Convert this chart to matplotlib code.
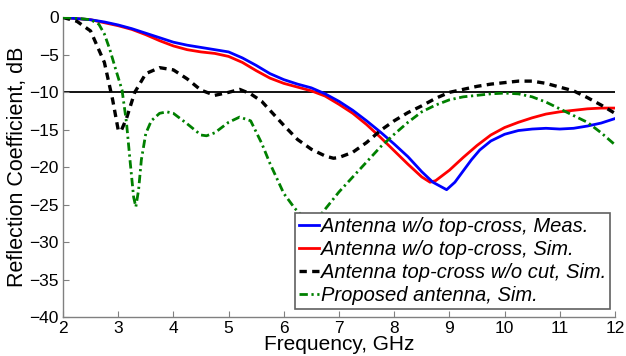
import matplotlib
matplotlib.use("Agg")
import matplotlib.pyplot as plt

plt.rcParams['font.family'] = ['Liberation Sans', 'DejaVu Sans']

# Antenna w/o top-cross, measured
f_meas = [2.0, 2.5, 2.75, 3.0, 3.25, 3.5, 3.75, 4.0, 4.25, 4.5, 4.75, 5.0, 5.25, 5.5,
          5.75, 6.0, 6.25, 6.5, 6.75, 7.0, 7.25, 7.5, 7.75, 8.0, 8.25, 8.5, 8.7, 8.85,
          8.95, 9.1, 9.25, 9.4, 9.55, 9.75, 10.0, 10.25, 10.5, 10.75, 11.0, 11.25, 11.5,
          11.75, 12.0]
s11_meas = [0, -0.3, -0.6, -1.0, -1.5, -2.1, -2.7, -3.3, -3.7, -4.0, -4.3, -4.6, -5.4, -6.4,
            -7.5, -8.3, -8.9, -9.4, -10.2, -11.2, -12.4, -13.8, -15.3, -16.9, -18.6, -20.6,
            -22.0, -22.6, -23.0, -22.0, -20.5, -19.0, -17.7, -16.5, -15.6, -15.1, -14.9,
            -14.8, -14.9, -14.8, -14.5, -14.1, -13.5]

# Antenna w/o top-cross, simulated
f_sim = [2.0, 2.5, 2.75, 3.0, 3.25, 3.5, 3.75, 4.0, 4.25, 4.5, 4.75, 5.0, 5.25, 5.5,
         5.75, 6.0, 6.25, 6.5, 6.75, 7.0, 7.25, 7.5, 7.75, 8.0, 8.25, 8.5, 8.65, 8.75,
         9.0, 9.25, 9.5, 9.75, 10.0, 10.25, 10.5, 10.75, 11.0, 11.25, 11.5, 11.75, 12.0]
s11_sim = [0, -0.3, -0.7, -1.1, -1.6, -2.3, -3.1, -3.8, -4.3, -4.6, -4.8, -5.2, -6.0, -7.1,
           -8.1, -8.8, -9.3, -9.8, -10.5, -11.6, -12.8, -14.3, -16.0, -17.8, -19.6, -21.3,
           -22.0, -21.8, -20.4, -18.7, -17.1, -15.7, -14.7, -14.0, -13.4, -12.9, -12.6,
           -12.4, -12.2, -12.1, -12.1]

# Antenna top-cross w/o cut, simulated
f_cross = [2.0, 2.25, 2.5, 2.75, 2.9, 3.0, 3.05, 3.15, 3.3, 3.5, 3.75, 4.0, 4.25, 4.5,
           4.75, 5.0, 5.2, 5.4, 5.6, 5.8, 6.0, 6.25, 6.5, 6.75, 6.9, 7.0, 7.25, 7.5, 7.75,
           8.0, 8.25, 8.5, 8.75, 9.0, 9.25, 9.5, 9.75, 10.0, 10.25, 10.5, 10.75, 11.0,
           11.25, 11.5, 11.75, 12.0]
s11_cross = [0, -0.5, -1.8, -6.0, -11.0, -15.0, -15.2, -13.5, -10.0, -7.5, -6.7, -7.0,
             -8.2, -9.7, -10.4, -10.0, -9.6, -10.2, -11.2, -12.8, -14.4, -16.3, -17.6,
             -18.5, -18.8, -18.7, -18.0, -16.7, -15.1, -13.8, -12.7, -11.8, -10.8, -10.0,
             -9.6, -9.2, -8.9, -8.7, -8.5, -8.5, -8.8, -9.3, -9.8, -10.7, -11.7, -12.8]

# Proposed antenna, simulated
f_prop = [2.0, 2.25, 2.5, 2.65, 2.75, 2.85, 2.95, 3.07, 3.15, 3.22, 3.28, 3.32, 3.37,
          3.42, 3.5, 3.6, 3.75, 3.88, 4.0, 4.25, 4.5, 4.6, 4.75, 5.0, 5.2, 5.4, 5.6, 5.75,
          6.0, 6.2, 6.4, 6.5, 6.6, 6.75, 7.0, 7.25, 7.5, 7.75, 8.0, 8.25, 8.5, 8.75, 9.0,
          9.25, 9.5, 9.75, 10.0, 10.25, 10.5, 10.75, 11.0, 11.25, 11.5, 11.75, 12.0]
s11_prop = [0, -0.1, -0.3, -0.9, -2.2, -4.3, -6.8, -9.7, -14.0, -19.5, -24.0, -25.3,
            -23.0, -19.0, -15.5, -13.8, -12.8, -12.6, -12.8, -14.2, -15.7, -15.8, -15.4,
            -14.0, -13.3, -13.8, -16.8, -19.5, -23.5, -25.5, -27.0, -27.4, -27.0, -25.6,
            -23.3, -21.3, -19.3, -17.3, -15.6, -14.0, -12.6, -11.7, -11.0, -10.6, -10.4,
            -10.2, -10.1, -10.2, -10.6, -11.3, -12.2, -13.1, -14.0, -15.4, -17.0]

threshold = -10
legend_labels = ["Antenna w/o top-cross, Meas.",
                 "Antenna w/o top-cross, Sim.",
                 "Antenna top-cross w/o cut, Sim.",
                 "Proposed antenna, Sim."]

fig = plt.figure(figsize=(6.26, 3.56), dpi=100)
ax = fig.add_axes([0.1006, 0.1096, 0.8818, 0.8413])

ax.axhline(threshold, color='black', lw=1.3, zorder=1)
l1, = ax.plot(f_meas, s11_meas, color='#0000ff', lw=2.0, zorder=3)
l2, = ax.plot(f_sim, s11_sim, color='#ff0000', lw=2.0, zorder=2)
l3, = ax.plot(f_cross, s11_cross, color='black', lw=2.4, ls=(0, (2.2, 1.6)), zorder=4)
l4, = ax.plot(f_prop, s11_prop, color='#008000', lw=2.0,
              ls=(0, (3, 1.3, 0.8, 1.3)), zorder=4)

ax.set_xlim(2, 12)
ax.set_ylim(-40, 0)
ax.set_xticks(range(2, 13))
ax.set_yticks(range(-40, 1, 5))
for s in ('top', 'right'):
    ax.spines[s].set_visible(False)
for s in ('left', 'bottom'):
    ax.spines[s].set_color('#808080')
    ax.spines[s].set_linewidth(1.0)
ax.tick_params(direction='in', length=4, color='#808080', labelsize=12.5, pad=3)

ax.set_xlabel("Frequency, GHz", fontsize=15, labelpad=-1)
ax.set_ylabel("Reflection Coefficient, dB", fontsize=15.5, labelpad=1)

leg = ax.legend([l1, l2, l3, l4], legend_labels, loc='upper left',
                bbox_to_anchor=(0.42, 0.347), fancybox=False, framealpha=1,
                edgecolor='#606060', handlelength=1.0, handletextpad=0.1,
                borderpad=0.2, labelspacing=0.2, borderaxespad=0,
                prop={'style': 'italic', 'size': 14.5})
leg.get_frame().set_linewidth(1.2)
leg.set_zorder(10)

fig.savefig("out.png", dpi=100)
